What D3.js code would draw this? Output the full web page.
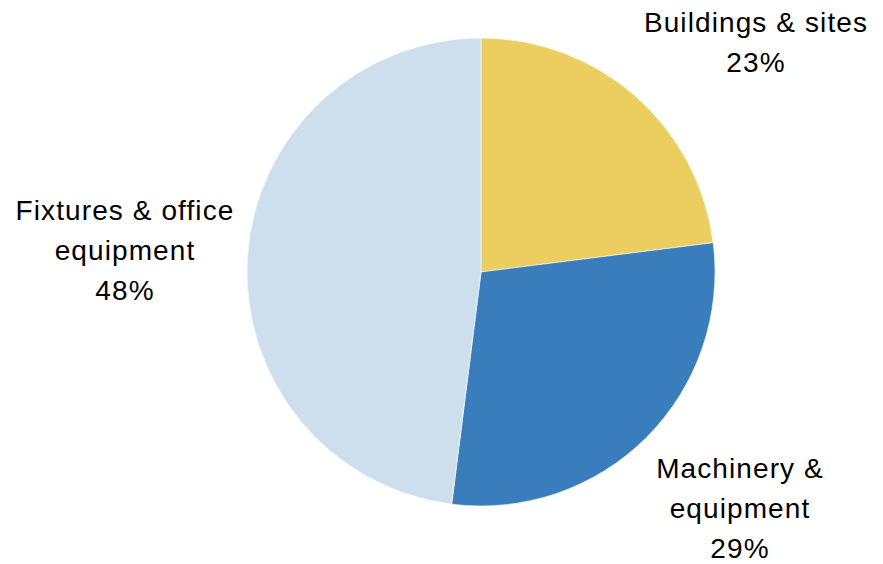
<!DOCTYPE html>
<html>
<head>
<meta charset="utf-8">
<script src="https://cdn.jsdelivr.net/npm/d3@7"></script>
<style>
  html, body { margin: 0; padding: 0; background: #ffffff; }
  svg { display: block; }
  text { font-family: "Liberation Sans", Arial, sans-serif; fill: #000; }
</style>
</head>
<body>
<svg id="chart" width="883" height="564"></svg>
<script>
// Share of investment by asset type (percent)
const categories = ["Buildings & sites", "Machinery & equipment", "Fixtures & office equipment"];
const values = [23, 29, 48];
const labelLines = [["Buildings & sites"], ["Machinery &", "equipment"], ["Fixtures & office", "equipment"]];

const colors = ["#ECCD5F", "#397DBD", "#CDDFEC"];

const width = 883, height = 564;
const cx = 481, cy = 272, radius = 234;

// label block anchors (centre x, first baseline y)
const labelPos = [[756, 32], [740, 478], [125, 220]];
const lineGap = 40;

const svg = d3.select("#chart");

const pie = d3.pie().sort(null).value(d => d)(values);
const arc = d3.arc().innerRadius(0).outerRadius(radius);
const color = d3.scaleOrdinal().domain(categories).range(colors);

const g = svg.append("g").attr("transform", `translate(${cx},${cy})`);
g.selectAll("path")
  .data(pie)
  .join("path")
  .attr("d", arc)
  .attr("fill", (d, i) => color(categories[i]))
  .attr("stroke", "#ffffff")
  .attr("stroke-width", 0.6);

const fmt = d3.format(".0f");
const labels = svg.selectAll("text.lbl")
  .data(pie)
  .join("text")
  .attr("class", "lbl")
  .attr("text-anchor", "middle")
  .attr("font-size", 28)
  .attr("letter-spacing", 1.1);

labels.each(function (d, i) {
  const t = d3.select(this);
  const lines = labelLines[i].concat([fmt(d.data) + "%"]);
  lines.forEach((s, k) => {
    t.append("tspan")
      .attr("x", labelPos[i][0])
      .attr("y", labelPos[i][1] + k * lineGap)
      .text(s);
  });
});
</script>
</body>
</html>
